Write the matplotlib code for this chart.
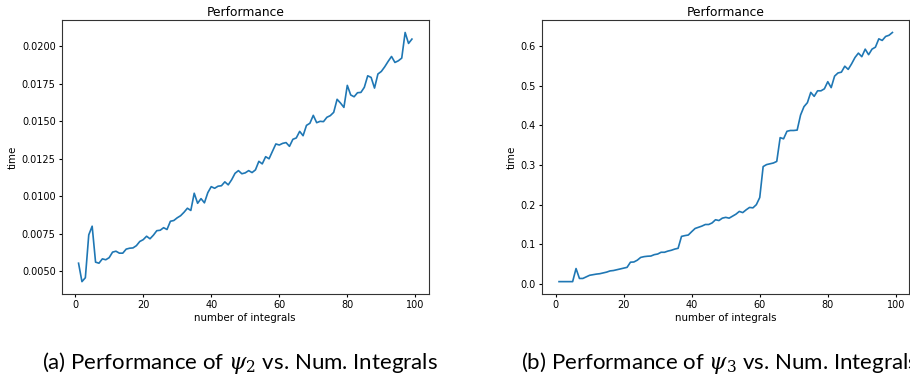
import matplotlib.pyplot as plt
import numpy as np

# number of integrals 1..99
n_integrals = list(range(1, 100))

# time for psi_2
time_psi2 = [
    0.00553, 0.00430, 0.00456, 0.00742, 0.00800, 0.00560, 0.00553, 0.00582, 0.00576, 0.00590,
    0.00627, 0.00633, 0.00620, 0.00620, 0.00647, 0.00653, 0.00655, 0.00670, 0.00698, 0.00710,
    0.00733, 0.00716, 0.00740, 0.00770, 0.00773, 0.00790, 0.00778, 0.00833, 0.00838, 0.00856,
    0.00870, 0.00893, 0.00920, 0.00905, 0.01020, 0.00953, 0.00984, 0.00956, 0.01024, 0.01064,
    0.01053, 0.01067, 0.01070, 0.01096, 0.01076, 0.01110, 0.01153, 0.01171, 0.01150, 0.01156,
    0.01171, 0.01158, 0.01176, 0.01233, 0.01216, 0.01264, 0.01250, 0.01300, 0.01349, 0.01342,
    0.01353, 0.01358, 0.01333, 0.01380, 0.01389, 0.01433, 0.01404, 0.01473, 0.01487, 0.01540,
    0.01491, 0.01500, 0.01498, 0.01527, 0.01538, 0.01560, 0.01647, 0.01622, 0.01593, 0.01740,
    0.01676, 0.01664, 0.01691, 0.01693, 0.01727, 0.01804, 0.01793, 0.01722, 0.01816, 0.01833,
    0.01864, 0.01900, 0.01933, 0.01893, 0.01904, 0.01922, 0.02093, 0.02020, 0.02049,
]

# time for psi_3
time_psi3 = [
    0.006, 0.006, 0.006, 0.006, 0.006, 0.039, 0.014, 0.014, 0.018, 0.022,
    0.0235, 0.025, 0.026, 0.028, 0.030, 0.033, 0.034, 0.036, 0.038, 0.040,
    0.042, 0.055, 0.0555, 0.060, 0.067, 0.069, 0.070, 0.0705, 0.074, 0.0756,
    0.080, 0.080, 0.083, 0.085, 0.088, 0.090, 0.120, 0.122, 0.1235, 0.132,
    0.140, 0.143, 0.146, 0.150, 0.150, 0.154, 0.162, 0.160, 0.166, 0.168,
    0.166, 0.171, 0.176, 0.183, 0.180, 0.187, 0.193, 0.192, 0.200, 0.218,
    0.296, 0.301, 0.303, 0.305, 0.309, 0.369, 0.366, 0.385, 0.387, 0.387,
    0.388, 0.426, 0.447, 0.457, 0.483, 0.473, 0.487, 0.487, 0.492, 0.510,
    0.495, 0.524, 0.532, 0.534, 0.549, 0.541, 0.555, 0.571, 0.582, 0.573,
    0.592, 0.578, 0.592, 0.597, 0.618, 0.614, 0.624, 0.627, 0.634,
]

captions = [r"(a) Performance of $\psi_2$ vs. Num. Integrals",
            r"(b) Performance of $\psi_3$ vs. Num. Integrals"]

plt.rcParams['mathtext.fontset'] = 'dejavuserif'

fig = plt.figure(figsize=(9.1, 3.78), dpi=100)
ax1 = fig.add_axes([0.068, 0.222, 0.403, 0.725])
ax2 = fig.add_axes([0.596, 0.222, 0.403, 0.725])

for ax, t in [(ax1, time_psi2), (ax2, time_psi3)]:
    ax.plot(n_integrals, t, color='#1f77b4', linewidth=1.2)
    ax.set_title('Performance', fontsize=8.8, pad=3)
    ax.set_xlabel('number of integrals', fontsize=7.4, labelpad=2)
    ax.set_ylabel('time', fontsize=7.4, labelpad=3)
    ax.tick_params(labelsize=7, length=2.5, pad=2)
    for s in ax.spines.values():
        s.set_linewidth(0.8)
        s.set_color('#333333')

ax1.set_yticks([0.005, 0.0075, 0.01, 0.0125, 0.015, 0.0175, 0.02])
ax1.set_yticklabels(['0.0050', '0.0075', '0.0100', '0.0125', '0.0150', '0.0175', '0.0200'])

# captions below the panels
fig.text(0.046, 0.024, captions[0], fontsize=16, family='Lato', ha='left', va='baseline')
fig.text(0.573, 0.024, captions[1], fontsize=16, family='Lato', ha='left', va='baseline')

plt.savefig('out.png')
